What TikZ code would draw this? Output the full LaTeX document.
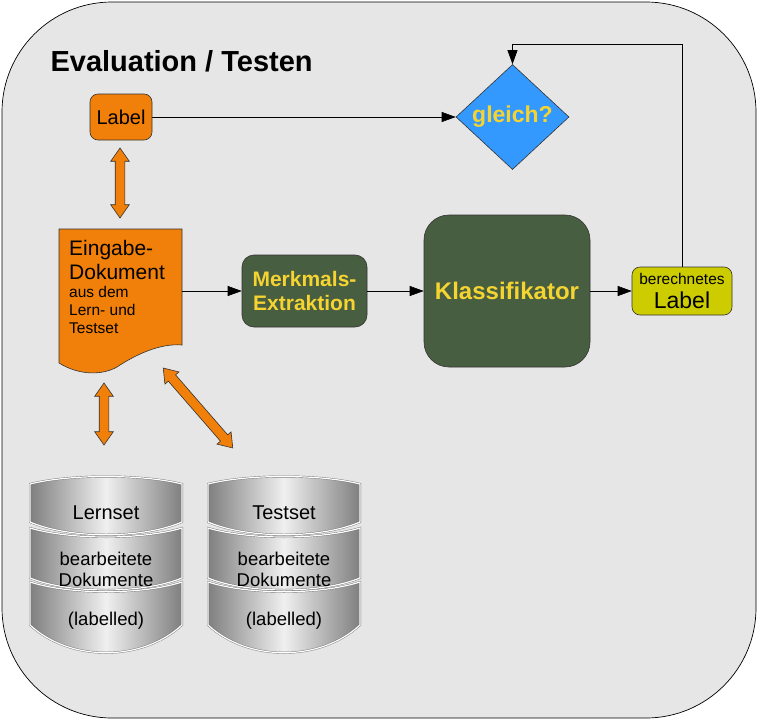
\documentclass[tikz,border=0pt]{standalone}
\usepackage{fontspec}
\setmainfont{Liberation Sans}
\usetikzlibrary{arrows.meta,shapes.geometric,shapes.arrows}
\definecolor{bg}{RGB}{230,230,230}
\definecolor{docorange}{RGB}{240,128,10}
\definecolor{darkgreen}{RGB}{72,94,64}
\definecolor{txtyellow}{RGB}{245,212,50}
\definecolor{diamondblue}{RGB}{51,153,255}
\definecolor{olive}{RGB}{204,204,0}
\begin{document}
\begin{tikzpicture}[x=1pt,y=-1pt]
    \tikzstyle{box} = [rectangle, draw=black!80, inner sep=0pt, line width=0.6pt]
    \tikzstyle{orangebox} = [box, fill=docorange, rounded corners=8pt]
    \tikzstyle{greenbox} = [box, fill=darkgreen, text=txtyellow, align=center, font=\bfseries\fontsize{21}{24}\selectfont]
    \tikzstyle{arr} = [-{Triangle[length=14pt,width=10pt]}, line width=0.6pt]
    \tikzstyle{dblarrow} = [double arrow, draw=black!80, fill=docorange, line width=0.6pt, inner xsep=0pt, inner ysep=4.5pt, double arrow head extend=4.5pt, double arrow tip angle=70]
    \tikzstyle{disk} = [draw=black!55, double=white, double distance=1.2pt, left color=black!50, right color=black!50, middle color=black!6]
    \tikzstyle{disktext} = [align=center, font=\fontsize{18.5}{21}\selectfont]
    \useasboundingbox (0,0) rectangle (758,720);
    \draw[fill=bg, line width=0.7pt, rounded corners=110pt] (2,2) rectangle (756,718);
    \node[anchor=base west, font=\bfseries\fontsize{29}{32}\selectfont] (title) at (47,71) {Evaluation / Testen};
    \node[orangebox, minimum width=62pt, minimum height=46pt, font=\fontsize{20}{24}\selectfont] (label) at (121,117) {Label};
    \draw[box, fill=docorange] (59,229) -- (182,229) -- (182,345) .. controls (160,343) and (135,355) .. (117,367) .. controls (103,375) and (80,376) .. (59,363) -- cycle;
    \node[inner sep=0pt, minimum width=123pt, minimum height=134pt] (doc) at (120.5,296) {};
    \node[anchor=base west, align=left, inner sep=0pt, font=\fontsize{21}{24}\selectfont] (doctitle) at (69,279) {Eingabe-\\Dokument};
    \node[anchor=base west, align=left, inner sep=0pt, font=\fontsize{15.5}{18}\selectfont] (docsub) at (69,333) {aus dem\\Lern- und\\Testset};
    \node[greenbox, minimum width=125pt, minimum height=72pt, rounded corners=12pt] (merk) at (304.5,291) {Merkmals-\\Extraktion};
    \node[greenbox, minimum width=166pt, minimum height=152pt, rounded corners=25pt, font=\bfseries\fontsize{24}{28}\selectfont] (klass) at (507,291) {Klassifikator};
    \node[box, fill=olive, rounded corners=8pt, minimum width=100pt, minimum height=48pt, align=center, font=\fontsize{23}{24}\selectfont] (berech) at (682,291) {{\fontsize{15.5}{17}\selectfont berechnetes}\\Label};
    \node[diamond, draw=black!80, fill=diamondblue, line width=0.6pt, minimum width=113pt, minimum height=105pt, inner sep=0pt, text=txtyellow, font=\bfseries\fontsize{23}{24}\selectfont] (gleich) at (512.5,117) {gleich?};
    \coordinate (fb) at (682,44);
    \draw[arr] (label) -- (gleich);
    \draw[arr] (doc.east |- merk) -- (merk);
    \draw[arr] (merk) -- (klass);
    \draw[arr] (klass) -- (berech);
    \draw[arr] (berech.north) -- (fb) -| (gleich.north);
    \node[dblarrow, minimum height=70pt, rotate=90] (dblLabel) at (120,183) {};
    \node[dblarrow, minimum height=62pt, rotate=90] (dblLern) at (104,414) {};
    \node[dblarrow, minimum height=106pt, rotate=-49] (dblTest) at (198,408) {};
    \foreach \x/\name in {30/Lernset, 208/Testset} {
        \draw[disk] (\x,484) .. controls (\x+40,474) and (\x+112,474) .. (\x+152,484) -- (\x+152,522) .. controls (\x+112,539) and (\x+40,539) .. (\x,522) -- cycle;
        \draw[disk] (\x,528) .. controls (\x+40,540) and (\x+112,540) .. (\x+152,528) -- (\x+152,578) .. controls (\x+112,594) and (\x+40,594) .. (\x,578) -- cycle;
        \draw[disk] (\x,582) .. controls (\x+40,595) and (\x+112,595) .. (\x+152,582) -- (\x+152,625) .. controls (\x+112,662) and (\x+40,662) .. (\x,625) -- cycle;
        \node[disktext, font=\fontsize{20}{24}\selectfont] (set\name) at (\x+76,513) {\name};
        \node[disktext] (docs\name) at (\x+76,569) {bearbeitete\\Dokumente};
        \node[disktext] (lab\name) at (\x+76,621) {(labelled)};
    }
\end{tikzpicture}
\end{document}
